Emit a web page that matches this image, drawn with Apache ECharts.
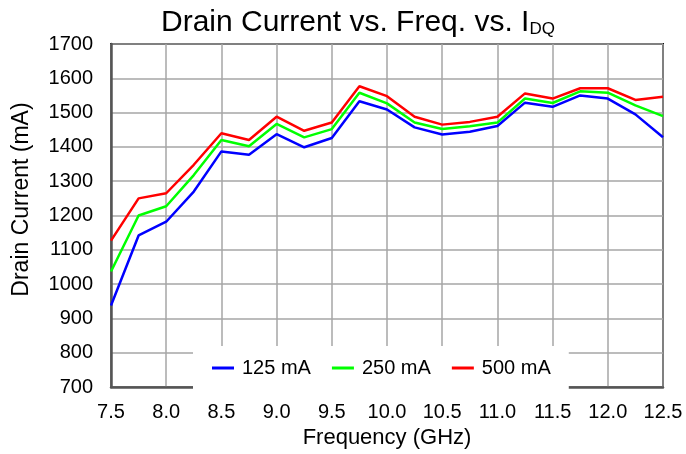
<!DOCTYPE html>
<html>
<head>
<meta charset="utf-8">
<script src="https://cdn.jsdelivr.net/npm/echarts@6/dist/echarts.min.js"></script>
<style>
html,body{margin:0;padding:0;background:#fff;}
#chart{width:686px;height:454px;}
</style>
</head>
<body>
<div id="chart"></div>
<script>
var freqGHz = [7.5, 7.75, 8.0, 8.25, 8.5, 8.75, 9.0, 9.25, 9.5, 9.75, 10.0, 10.25, 10.5, 10.75, 11.0, 11.25, 11.5, 11.75, 12.0, 12.25, 12.5];
var seriesNames = ['125 mA', '250 mA', '500 mA'];
var current125 = [938, 1142, 1182, 1270, 1387, 1377, 1437, 1399, 1426, 1533, 1509, 1457, 1436, 1444, 1461, 1529, 1517, 1550, 1541, 1495, 1428];
var current250 = [1037, 1200, 1227, 1318, 1420, 1402, 1467, 1428, 1452, 1558, 1527, 1471, 1452, 1460, 1471, 1541, 1528, 1562, 1558, 1521, 1490];
var current500 = [1127, 1250, 1265, 1348, 1440, 1420, 1488, 1447, 1471, 1577, 1548, 1488, 1465, 1473, 1488, 1556, 1541, 1571, 1571, 1537, 1546];
var seriesColors = ['#0000ff', '#00ff00', '#ff0000'];

var FONT = "'Liberation Sans', Arial, sans-serif";
function pairs(ys) { return freqGHz.map(function (x, i) { return [x, ys[i]]; }); }
var allData = [current125, current250, current500];

var chart = echarts.init(document.getElementById('chart'), null, {renderer: 'canvas'});
chart.setOption({
  animation: false,
  backgroundColor: '#ffffff',
  textStyle: {fontFamily: FONT},
  title: {
    left: 161, top: 4, padding: 0,
    text: '{a|Drain Current vs. Freq. vs. I}{b|DQ}',
    textStyle: {
      fontFamily: FONT, fontWeight: 'normal',
      rich: {
        a: {fontSize: 30, lineHeight: 34, color: '#000', fontFamily: FONT, fontWeight: 'normal', verticalAlign: 'bottom'},
        b: {fontSize: 17, lineHeight: 16, color: '#000', fontFamily: FONT, fontWeight: 'normal', verticalAlign: 'bottom'}
      }
    }
  },
  grid: {
    left: 111, right: 23, top: 44, bottom: 63,
    show: true, borderColor: '#111', borderWidth: 2, backgroundColor: 'transparent'
  },
  legend: {
    left: 193, top: 346,
    padding: [12, 18, 12, 19],
    backgroundColor: '#ffffff',
    itemWidth: 22, itemHeight: 3, itemGap: 21,
    icon: 'rect',
    data: seriesNames,
    textStyle: {fontSize: 20, color: '#000', fontFamily: FONT, padding: [0, 0, 0, 3]}
  },
  xAxis: {
    type: 'value', min: 7.5, max: 12.5, interval: 0.5,
    name: 'Frequency (GHz)', nameLocation: 'middle', nameGap: 36,
    nameTextStyle: {fontSize: 22, color: '#000', fontFamily: FONT},
    axisLine: {show: true, onZero: false, lineStyle: {color: '#555', width: 2.5}},
    axisTick: {show: false},
    axisLabel: {fontSize: 20, color: '#000', margin: 15, fontFamily: FONT,
      formatter: function (v) { return v.toFixed(1); }},
    splitLine: {show: true, lineStyle: {color: '#a6a6a6', width: 1.5}}
  },
  yAxis: {
    type: 'value', min: 700, max: 1700, interval: 100,
    name: 'Drain Current (mA)', nameLocation: 'middle', nameGap: 78,
    nameTextStyle: {fontSize: 23, color: '#000', fontFamily: FONT, padding: [0, 0, 0, 32]},
    axisLine: {show: true, onZero: false, lineStyle: {color: '#555', width: 2.5}},
    axisTick: {show: false},
    axisLabel: {fontSize: 20, color: '#000', margin: 18, fontFamily: FONT,
      formatter: function (v) { return String(v); }},
    splitLine: {show: true, lineStyle: {color: '#a6a6a6', width: 1.5}}
  },
  series: seriesNames.map(function (n, i) {
    return {
      name: n, type: 'line', data: pairs(allData[i]),
      showSymbol: false, symbol: 'none',
      color: seriesColors[i],
      lineStyle: {color: seriesColors[i], width: 2.5},
      z: 2 + i
    };
  })
});
</script>
</body>
</html>
